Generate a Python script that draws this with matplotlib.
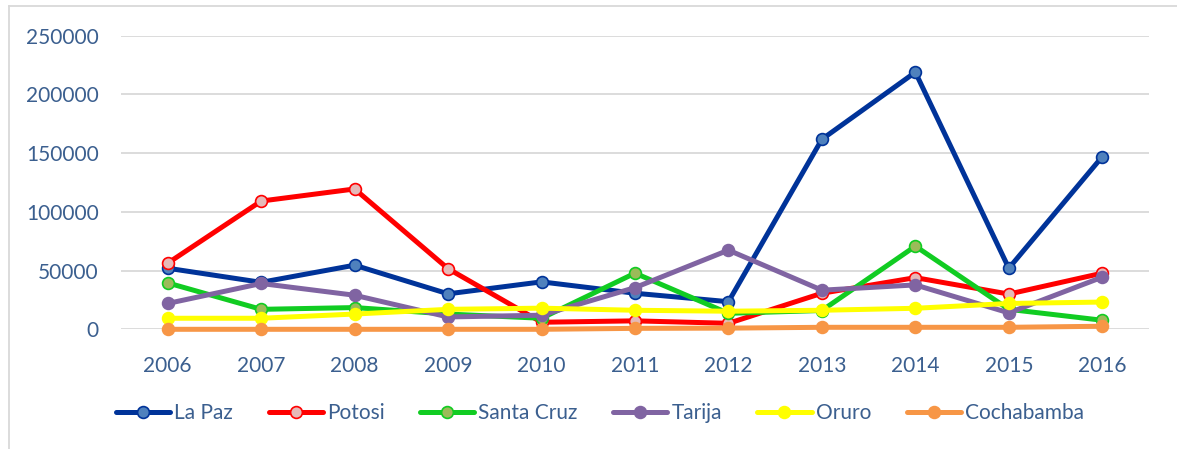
import matplotlib
matplotlib.use("Agg")
import matplotlib.pyplot as plt
from matplotlib.lines import Line2D

years = ["2006", "2007", "2008", "2009", "2010", "2011", "2012", "2013", "2014", "2015", "2016"]
la_paz = [52000, 40000, 54600, 30200, 40400, 30700, 23500, 161800, 218900, 52000, 147000]
potosi = [56300, 109200, 119500, 51600, 6000, 7200, 5100, 30700, 44000, 30000, 47800]
santa_cruz = [39500, 17000, 18500, 13000, 9400, 47800, 13600, 16000, 70800, 17000, 7700]
tarija = [22000, 39000, 29000, 10500, 12000, 35500, 67400, 33300, 37800, 14000, 44400]
oruro = [9400, 9400, 13000, 17000, 18000, 16200, 15400, 16200, 17900, 22000, 23200]
cochabamba = [0, 0, 0, 0, 0, 800, 1000, 1700, 1700, 1700, 2600]

series_names = ["La Paz", "Potosi", "Santa Cruz", "Tarija", "Oruro", "Cochabamba"]
series_values = [la_paz, potosi, santa_cruz, tarija, oruro, cochabamba]
line_colors = ["#003399", "#ff0000", "#11cc22", "#8064a2", "#ffff00", "#f79646"]
face_colors = ["#4f81bd", "#e6b9b8", "#9bbb59", "#8064a2", "#ffff00", "#f79646"]

text_color = "#3b5f8f"
plt.rcParams['font.family'] = ['Lato', 'DejaVu Sans']

W, H = 1177, 449
fig = plt.figure(figsize=(W / 100, H / 100), dpi=100)
ax = fig.add_axes([121 / W, 1 - 329.3 / H, (1149 - 121) / W, (329.3 - 35.7) / H])

x = list(range(len(years)))
for name, vals, lc, fc in zip(series_names, series_values, line_colors, face_colors):
    ax.plot(x, vals, color=lc, lw=3.6, marker='o', markersize=8.5,
            markerfacecolor=fc, markeredgecolor=lc, markeredgewidth=1.2,
            label=name, solid_capstyle='round', solid_joinstyle='round', clip_on=False)

ax.set_xlim(-0.5, len(years) - 0.5)
ax.set_ylim(0, 250000)
ax.set_yticks([0, 50000, 100000, 150000, 200000, 250000])
ax.set_yticklabels(["0", "50000", "100000", "150000", "200000", "250000"])
ax.set_xticks(x)
ax.set_xticklabels(years)
ax.grid(axis='y', color='#d9d9d9', lw=1.3)
ax.set_axisbelow(True)
for s in ax.spines.values():
    s.set_visible(False)
ax.tick_params(axis='both', length=0, labelsize=15, colors=text_color)
ax.tick_params(axis='x', pad=19)
ax.tick_params(axis='y', pad=16)

fig.legend(loc='center', bbox_to_anchor=(600 / W, 1 - 413 / H), ncol=6, frameon=False,
           fontsize=15, labelcolor=text_color, handlelength=2.6, handletextpad=0.2,
           columnspacing=1.7, numpoints=1)

# outer chart frame
fig.add_artist(Line2D([8.5 / W, 8.5 / W], [0, 1 - 6 / H], transform=fig.transFigure,
                      color='#d9d9d9', lw=1.3))
fig.add_artist(Line2D([8.5 / W, 1], [1 - 6 / H, 1 - 6 / H], transform=fig.transFigure,
                      color='#d9d9d9', lw=1.3))

fig.savefig("out.png", dpi=100)
